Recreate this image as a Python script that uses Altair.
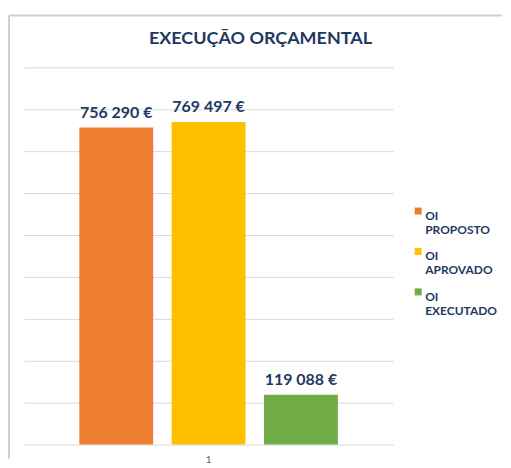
import altair as alt
import pandas as pd

grupo = ["1", "1", "1"]
series = ["OI PROPOSTO", "OI APROVADO", "OI EXECUTADO"]
valores = [756290, 769497, 119088]
rotulos = ["756 290 €", "769 497 €", "119 088 €"]
cores = ["#ED7D31", "#FFC000", "#70AD47"]
grelha = [0, 100000, 200000, 300000, 400000, 500000, 600000, 700000, 800000, 900000]

df = pd.DataFrame({"grupo": grupo, "serie": series, "valor": valores, "rotulo": rotulos})

NAVY = "#1F3864"
FONT = "Lato"

x_enc = alt.X("grupo:N", title=None,
              scale=alt.Scale(paddingInner=0, paddingOuter=0.214),
              axis=alt.Axis(labelAngle=0, ticks=False, domain=False, labelPadding=10,
                            labelFontSize=10, labelColor="#595959", labelFont=FONT, grid=False))
xo_enc = alt.XOffset("serie:N", sort=series,
                     scale=alt.Scale(paddingInner=0.2, paddingOuter=0))
y_enc = alt.Y("valor:Q", title=None,
              scale=alt.Scale(domain=[0, 900000], nice=False),
              axis=alt.Axis(values=grelha, labels=False, ticks=False, domain=False,
                            grid=True, gridColor="#D9D9D9", gridWidth=1))

base = alt.Chart(df)

bars = base.mark_bar().encode(
    x=x_enc, xOffset=xo_enc, y=y_enc,
    color=alt.Color("serie:N", sort=series, title=None,
                    scale=alt.Scale(domain=series, range=cores),
                    legend=alt.Legend(orient="none", legendX=389, legendY=138,
                                      symbolType="square", symbolSize=49,
                                      symbolStrokeWidth=0,
                                      labelBaseline="top", labelFont=FONT, labelFontSize=12,
                                      labelFontWeight="bold", labelColor=NAVY,
                                      labelExpr="split(datum.label, ' ')",
                                      rowPadding=9.5, labelOffset=1)),
)

text = base.mark_text(baseline="alphabetic", dy=-10, font=FONT, fontSize=16,
                      fontWeight="bold", color=NAVY).encode(
    x=x_enc, xOffset=xo_enc, y=y_enc, text="rotulo:N"
)

frame_df = pd.DataFrame({"k": [0]})
frame_left = alt.Chart(frame_df).mark_rule(color="#D0D0D0", strokeWidth=2).encode(
    x=alt.value(-15), y=alt.value(-52), y2=alt.value(392))
frame_top = alt.Chart(frame_df).mark_rule(color="#D0D0D0", strokeWidth=2).encode(
    x=alt.value(-15), x2=alt.value(479), y=alt.value(-52))

chart = alt.layer(frame_left, frame_top, bars, text).properties(
    width=370, height=378,
    padding={"left": 0, "top": 6, "right": 0, "bottom": 0},
    title=alt.TitleParams("EXECUÇÃO ORÇAMENTAL", font=FONT, fontSize=18, fontWeight="bold",
                          color=NAVY, anchor="middle", frame="bounds", baseline="bottom",
                          offset=-52, dx=5),
).configure_view(stroke=None)

chart.save("out.html", embed_options={"renderer": "svg", "actions": False})
